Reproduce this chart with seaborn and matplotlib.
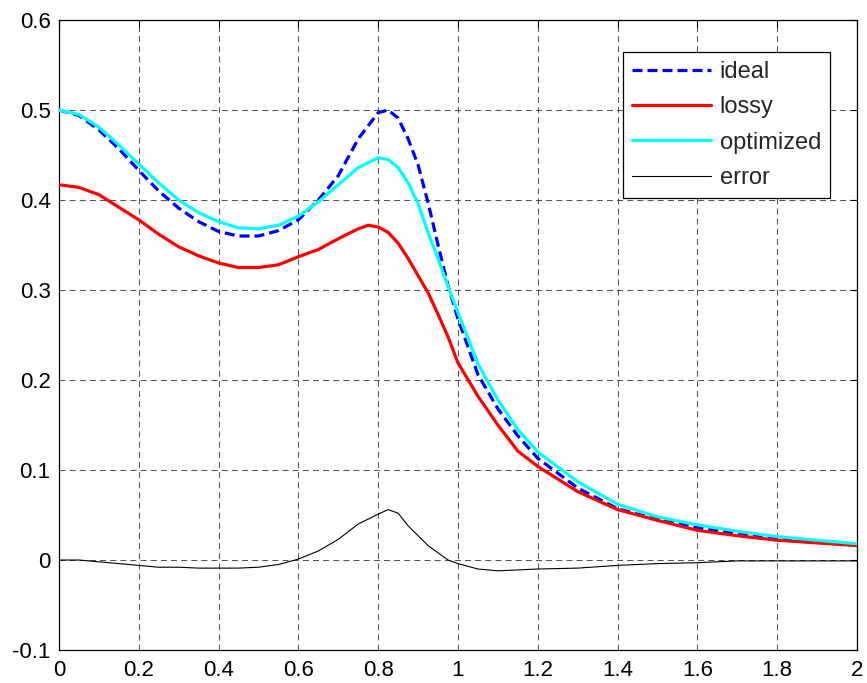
import numpy as np
import pandas as pd
import matplotlib
matplotlib.use("Agg")
import matplotlib.pyplot as plt
import seaborn as sns

# ---- data ----
x_common = [0, 0.05, 0.1, 0.15, 0.2, 0.25, 0.3, 0.35, 0.4, 0.45, 0.5, 0.55, 0.6,
            0.65, 0.7, 0.75, 0.8, 0.825, 0.85, 0.875, 0.9, 0.925, 0.95, 0.975,
            1.0, 1.05, 1.1, 1.15, 1.2, 1.3, 1.4, 1.5, 1.6, 1.7, 1.8, 1.9, 2.0]

ideal = [0.500, 0.494, 0.478, 0.457, 0.433, 0.410, 0.391, 0.376, 0.365, 0.360,
         0.360, 0.366, 0.378, 0.400, 0.427, 0.468, 0.497, 0.500, 0.491, 0.468,
         0.439, 0.397, 0.350, 0.305, 0.268, 0.206, 0.168, 0.138, 0.113, 0.080,
         0.057, 0.045, 0.036, 0.029, 0.024, 0.020, 0.017]

optimized = [0.500, 0.495, 0.481, 0.461, 0.440, 0.419, 0.400, 0.386, 0.376, 0.369,
             0.368, 0.372, 0.382, 0.398, 0.417, 0.436, 0.447, 0.445, 0.436, 0.419,
             0.396, 0.364, 0.335, 0.304, 0.275, 0.218, 0.178, 0.145, 0.120, 0.087,
             0.062, 0.048, 0.039, 0.032, 0.026, 0.022, 0.018]

error = [0.0, 0.0, -0.002, -0.004, -0.006, -0.008, -0.008, -0.009, -0.009, -0.009,
         -0.008, -0.005, 0.001, 0.010, 0.023, 0.040, 0.051, 0.056, 0.052, 0.038,
         0.027, 0.016, 0.008, 0.0, -0.004, -0.010, -0.012, -0.011, -0.010, -0.009,
         -0.006, -0.004, -0.003, -0.001, -0.001, -0.001, -0.001]

x_lossy = [0, 0.05, 0.1, 0.15, 0.2, 0.25, 0.3, 0.35, 0.4, 0.45, 0.5, 0.55, 0.6,
           0.65, 0.7, 0.75, 0.775, 0.8, 0.825, 0.85, 0.875, 0.9, 0.925, 0.95,
           0.975, 1.0, 1.05, 1.1, 1.15, 1.2, 1.3, 1.4, 1.5, 1.6, 1.7, 1.8, 1.9, 2.0]
lossy = [0.417, 0.414, 0.406, 0.392, 0.378, 0.362, 0.348, 0.338, 0.330, 0.325,
         0.325, 0.328, 0.337, 0.345, 0.357, 0.368, 0.372, 0.370, 0.364, 0.352,
         0.335, 0.316, 0.297, 0.273, 0.248, 0.219, 0.182, 0.150, 0.121, 0.104,
         0.076, 0.056, 0.044, 0.033, 0.027, 0.022, 0.019, 0.016]

x_ticks = [0, 0.2, 0.4, 0.6, 0.8, 1.0, 1.2, 1.4, 1.6, 1.8, 2.0]
x_tick_labels = ["0", "0.2", "0.4", "0.6", "0.8", "1", "1.2", "1.4", "1.6", "1.8", "2"]
y_ticks = [-0.1, 0, 0.1, 0.2, 0.3, 0.4, 0.5, 0.6]
y_tick_labels = ["-0.1", "0", "0.1", "0.2", "0.3", "0.4", "0.5", "0.6"]

# ---- style ----
sns.set_style("white")
plt.rcParams["font.family"] = ["Liberation Sans", "DejaVu Sans"]
plt.rcParams["lines.scale_dashes"] = False

fig = plt.figure(figsize=(8.67, 6.83), dpi=100)
ax = fig.add_axes([0.068, 0.0483, 0.9205, 0.9224])

df_main = pd.DataFrame({"x": x_common, "ideal": ideal,
                        "optimized": optimized, "error": error})
df_lossy = pd.DataFrame({"x": x_lossy, "lossy": lossy})

sns.lineplot(data=df_main, x="x", y="ideal", ax=ax, color="#0000ff", lw=2.3,
             linestyle=(0, (7.2, 3.6)), label="ideal", zorder=3)
sns.lineplot(data=df_lossy, x="x", y="lossy", ax=ax, color="#ff0000", lw=2.3,
             label="lossy", zorder=3)
sns.lineplot(data=df_main, x="x", y="optimized", ax=ax, color="#00ffff", lw=2.3,
             label="optimized", zorder=3)
sns.lineplot(data=df_main, x="x", y="error", ax=ax, color="black", lw=0.8,
             label="error", zorder=3)

ax.set_xlim(0, 2)
ax.set_ylim(-0.1, 0.6)
ax.set_xticks(x_ticks)
ax.set_xticklabels(x_tick_labels)
ax.set_yticks(y_ticks)
ax.set_yticklabels(y_tick_labels)
ax.set_xlabel("")
ax.set_ylabel("")

ax.grid(True, color="#404040", linestyle=(0, (4.3, 3.0)), lw=0.75, alpha=0.9)
ax.tick_params(direction="in", length=5, width=0.8, top=True, right=True,
               labelsize=16, colors="black")
ax.tick_params(axis="y", pad=6)
ax.tick_params(axis="x", pad=7.5)
for s in ax.spines.values():
    s.set_visible(True)
    s.set_color("black")
    s.set_linewidth(0.9)

leg = ax.legend(loc="upper right", bbox_to_anchor=(0.966, 0.949), fontsize=17,
                frameon=True, fancybox=False, shadow=False, handlelength=3.35,
                handletextpad=0.35, borderpad=0.38, labelspacing=0.56,
                borderaxespad=0)
leg.get_frame().set_edgecolor("black")
leg.get_frame().set_linewidth(0.9)
leg.get_frame().set_alpha(1.0)

fig.savefig("out.png", dpi=100)
